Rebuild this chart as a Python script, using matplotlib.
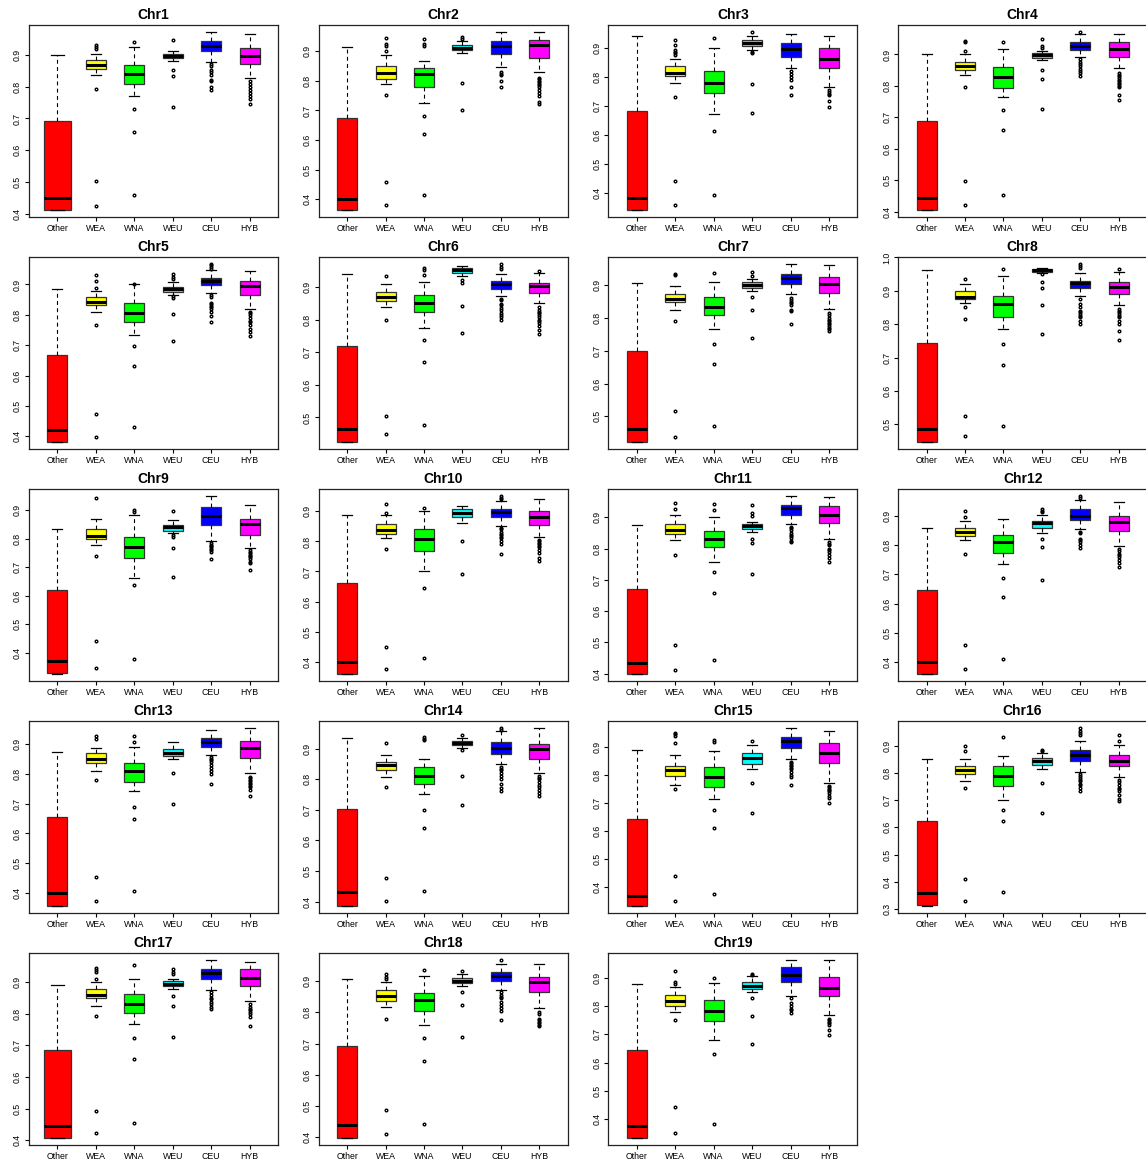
import matplotlib
matplotlib.use("Agg")
import matplotlib.pyplot as plt
from matplotlib.ticker import MultipleLocator, FormatStrFormatter

plt.rcParams['font.family'] = ['Liberation Sans', 'DejaVu Sans']

GROUPS = ["Other", "WEA", "WNA", "WEU", "CEU", "HYB"]
COLORS = ["#FF0000", "#FFFF00", "#00FF00", "#00FFFF", "#0000FF", "#FF00FF"]
CHROMS = ["Chr%d" % i for i in range(1, 20)]

# five-number summaries per chromosome (rows) and group (columns)
WHISLO = [
    [0.412, 0.837, 0.772, 0.882, 0.878, 0.826],
    [0.364, 0.791, 0.727, 0.894, 0.846, 0.831],
    [0.343, 0.780, 0.671, 0.892, 0.829, 0.763],
    [0.406, 0.835, 0.766, 0.881, 0.891, 0.856],
    [0.382, 0.811, 0.734, 0.867, 0.873, 0.820],
    [0.425, 0.839, 0.776, 0.936, 0.874, 0.851],
    [0.422, 0.823, 0.765, 0.882, 0.872, 0.827],
    [0.447, 0.862, 0.786, 0.952, 0.885, 0.857],
    [0.326, 0.779, 0.661, 0.819, 0.791, 0.768],
    [0.359, 0.813, 0.703, 0.863, 0.852, 0.814],
    [0.399, 0.828, 0.756, 0.852, 0.880, 0.832],
    [0.361, 0.818, 0.734, 0.841, 0.854, 0.796],
    [0.357, 0.810, 0.743, 0.851, 0.862, 0.801],
    [0.386, 0.807, 0.751, 0.903, 0.850, 0.820],
    [0.331, 0.762, 0.713, 0.821, 0.857, 0.770],
    [0.311, 0.772, 0.700, 0.816, 0.803, 0.784],
    [0.408, 0.823, 0.766, 0.879, 0.876, 0.841],
    [0.397, 0.819, 0.761, 0.884, 0.873, 0.814],
    [0.332, 0.779, 0.680, 0.849, 0.836, 0.769],
]
Q1 = [
    [0.413, 0.856, 0.809, 0.889, 0.911, 0.873],
    [0.365, 0.808, 0.779, 0.905, 0.891, 0.877],
    [0.344, 0.801, 0.743, 0.907, 0.869, 0.829],
    [0.407, 0.851, 0.794, 0.889, 0.914, 0.893],
    [0.383, 0.832, 0.778, 0.875, 0.899, 0.867],
    [0.426, 0.859, 0.823, 0.945, 0.896, 0.882],
    [0.423, 0.849, 0.810, 0.892, 0.903, 0.876],
    [0.448, 0.876, 0.821, 0.956, 0.907, 0.889],
    [0.330, 0.798, 0.733, 0.829, 0.850, 0.815],
    [0.360, 0.826, 0.769, 0.882, 0.880, 0.856],
    [0.400, 0.847, 0.805, 0.864, 0.906, 0.882],
    [0.362, 0.829, 0.772, 0.859, 0.885, 0.847],
    [0.358, 0.835, 0.773, 0.861, 0.889, 0.853],
    [0.387, 0.831, 0.785, 0.912, 0.884, 0.865],
    [0.332, 0.794, 0.756, 0.839, 0.894, 0.840],
    [0.314, 0.797, 0.751, 0.830, 0.843, 0.824],
    [0.409, 0.848, 0.802, 0.886, 0.909, 0.888],
    [0.398, 0.837, 0.803, 0.895, 0.902, 0.865],
    [0.333, 0.801, 0.748, 0.862, 0.886, 0.837],
]
MED = [
    [0.450, 0.868, 0.839, 0.897, 0.928, 0.897],
    [0.402, 0.826, 0.824, 0.912, 0.918, 0.920],
    [0.384, 0.811, 0.780, 0.917, 0.895, 0.862],
    [0.444, 0.863, 0.828, 0.898, 0.928, 0.916],
    [0.420, 0.842, 0.807, 0.885, 0.910, 0.896],
    [0.466, 0.869, 0.851, 0.952, 0.909, 0.904],
    [0.460, 0.859, 0.833, 0.900, 0.921, 0.902],
    [0.485, 0.882, 0.859, 0.961, 0.922, 0.910],
    [0.370, 0.810, 0.770, 0.841, 0.880, 0.851],
    [0.400, 0.838, 0.809, 0.894, 0.897, 0.881],
    [0.433, 0.861, 0.830, 0.872, 0.929, 0.909],
    [0.400, 0.843, 0.810, 0.873, 0.900, 0.879],
    [0.400, 0.849, 0.808, 0.871, 0.908, 0.885],
    [0.431, 0.845, 0.809, 0.918, 0.902, 0.898],
    [0.367, 0.815, 0.791, 0.858, 0.919, 0.877],
    [0.357, 0.812, 0.790, 0.844, 0.865, 0.844],
    [0.445, 0.858, 0.832, 0.894, 0.928, 0.914],
    [0.438, 0.854, 0.840, 0.902, 0.916, 0.897],
    [0.373, 0.820, 0.784, 0.873, 0.912, 0.866],
]
Q3 = [
    [0.693, 0.885, 0.868, 0.903, 0.944, 0.922],
    [0.676, 0.852, 0.844, 0.920, 0.935, 0.937],
    [0.683, 0.836, 0.821, 0.926, 0.915, 0.898],
    [0.689, 0.877, 0.859, 0.905, 0.939, 0.939],
    [0.668, 0.860, 0.840, 0.893, 0.922, 0.913],
    [0.720, 0.885, 0.876, 0.958, 0.919, 0.912],
    [0.700, 0.874, 0.863, 0.908, 0.935, 0.926],
    [0.743, 0.899, 0.885, 0.964, 0.930, 0.927],
    [0.619, 0.836, 0.807, 0.850, 0.911, 0.868],
    [0.662, 0.858, 0.840, 0.907, 0.909, 0.900],
    [0.670, 0.878, 0.856, 0.880, 0.940, 0.936],
    [0.645, 0.859, 0.834, 0.883, 0.921, 0.898],
    [0.655, 0.870, 0.836, 0.883, 0.920, 0.910],
    [0.704, 0.856, 0.840, 0.925, 0.921, 0.914],
    [0.643, 0.832, 0.828, 0.876, 0.935, 0.913],
    [0.622, 0.827, 0.824, 0.855, 0.884, 0.865],
    [0.685, 0.877, 0.861, 0.903, 0.942, 0.941],
    [0.691, 0.871, 0.861, 0.909, 0.929, 0.915],
    [0.643, 0.839, 0.822, 0.886, 0.939, 0.905],
]
WHISHI = [
    [0.900, 0.903, 0.926, 0.912, 0.972, 0.967],
    [0.914, 0.886, 0.868, 0.934, 0.965, 0.965],
    [0.940, 0.860, 0.898, 0.940, 0.946, 0.940],
    [0.900, 0.902, 0.918, 0.911, 0.966, 0.966],
    [0.884, 0.880, 0.900, 0.908, 0.946, 0.944],
    [0.940, 0.910, 0.917, 0.966, 0.941, 0.943],
    [0.907, 0.897, 0.910, 0.920, 0.964, 0.960],
    [0.962, 0.919, 0.944, 0.967, 0.953, 0.957],
    [0.833, 0.871, 0.882, 0.867, 0.950, 0.920],
    [0.887, 0.889, 0.900, 0.919, 0.936, 0.941],
    [0.875, 0.908, 0.902, 0.886, 0.968, 0.964],
    [0.857, 0.883, 0.889, 0.902, 0.953, 0.946],
    [0.872, 0.887, 0.891, 0.906, 0.948, 0.953],
    [0.936, 0.879, 0.866, 0.934, 0.956, 0.967],
    [0.887, 0.870, 0.884, 0.906, 0.966, 0.955],
    [0.850, 0.852, 0.863, 0.872, 0.918, 0.904],
    [0.889, 0.899, 0.908, 0.908, 0.969, 0.964],
    [0.908, 0.898, 0.917, 0.922, 0.954, 0.955],
    [0.879, 0.867, 0.881, 0.907, 0.964, 0.964],
]

# outliers per chromosome, per group
fliers_chr1 = [[], [0.930, 0.925, 0.920, 0.792, 0.504, 0.425], [0.942, 0.730, 0.656, 0.458],
               [0.946, 0.854, 0.834, 0.735],
               [0.872, 0.864, 0.854, 0.845, 0.838, 0.822, 0.817, 0.799, 0.790],
               [0.817, 0.810, 0.800, 0.790, 0.780, 0.770, 0.762, 0.746]]
fliers_chr2 = [[], [0.944, 0.924, 0.919, 0.900, 0.754, 0.457, 0.381],
               [0.942, 0.925, 0.919, 0.683, 0.619, 0.414], [0.949, 0.942, 0.793, 0.700],
               [0.830, 0.825, 0.820, 0.800, 0.780],
               [0.810, 0.805, 0.800, 0.795, 0.790, 0.785, 0.780, 0.770, 0.760, 0.750, 0.730, 0.722]]
fliers_chr3 = [[], [0.926, 0.909, 0.892, 0.886, 0.880, 0.875, 0.732, 0.443, 0.360],
               [0.932, 0.613, 0.394], [0.953, 0.886, 0.880, 0.775, 0.675],
               [0.820, 0.810, 0.800, 0.790, 0.763, 0.737],
               [0.755, 0.748, 0.742, 0.737, 0.715, 0.697]]
fliers_chr4 = [[], [0.943, 0.939, 0.912, 0.798, 0.498, 0.420], [0.940, 0.722, 0.660, 0.454],
               [0.948, 0.927, 0.921, 0.852, 0.821, 0.728],
               [0.971, 0.884, 0.877, 0.870, 0.862, 0.855, 0.848, 0.840, 0.833],
               [0.840, 0.835, 0.830, 0.825, 0.820, 0.815, 0.810, 0.805, 0.800, 0.795, 0.770, 0.755]]
fliers_chr5 = [[], [0.930, 0.910, 0.890, 0.767, 0.475, 0.398], [0.902, 0.698, 0.632, 0.430],
               [0.936, 0.924, 0.919, 0.862, 0.856, 0.802, 0.713],
               [0.967, 0.963, 0.957, 0.952, 0.865, 0.860, 0.840, 0.835, 0.830, 0.825, 0.820, 0.810,
                0.795, 0.777],
               [0.810, 0.805, 0.800, 0.790, 0.780, 0.775, 0.765, 0.755, 0.745, 0.732]]
fliers_chr6 = [[], [0.935, 0.800, 0.506, 0.448], [0.958, 0.954, 0.938, 0.738, 0.669, 0.477],
               [0.922, 0.912, 0.842, 0.760],
               [0.971, 0.962, 0.956, 0.865, 0.860, 0.850, 0.845, 0.835, 0.830, 0.820, 0.815, 0.810,
                0.800],
               [0.951, 0.840, 0.830, 0.825, 0.820, 0.815, 0.810, 0.800, 0.795, 0.790, 0.780, 0.770,
                0.757]]
fliers_chr7 = [[], [0.934, 0.931, 0.790, 0.515, 0.436], [0.937, 0.721, 0.659, 0.469],
               [0.941, 0.929, 0.864, 0.823, 0.738],
               [0.860, 0.855, 0.850, 0.845, 0.840, 0.825, 0.820, 0.780],
               [0.815, 0.810, 0.800, 0.795, 0.790, 0.785, 0.780, 0.775, 0.770, 0.765, 0.760]]
fliers_chr8 = [[], [0.936, 0.851, 0.814, 0.526, 0.466], [0.964, 0.739, 0.678, 0.496],
               [0.949, 0.927, 0.907, 0.857, 0.771],
               [0.980, 0.974, 0.967, 0.875, 0.860, 0.850, 0.840, 0.835, 0.830, 0.825, 0.820, 0.810,
                0.800],
               [0.964, 0.845, 0.840, 0.835, 0.830, 0.825, 0.820, 0.810, 0.800, 0.780, 0.752]]
fliers_chr9 = [[], [0.944, 0.741, 0.440, 0.345], [0.902, 0.894, 0.639, 0.379],
               [0.898, 0.813, 0.808, 0.767, 0.667],
               [0.785, 0.780, 0.775, 0.770, 0.765, 0.760, 0.755, 0.730],
               [0.760, 0.755, 0.750, 0.745, 0.740, 0.735, 0.730, 0.720, 0.715, 0.690]]
fliers_chr10 = [[], [0.924, 0.896, 0.776, 0.449, 0.376], [0.912, 0.646, 0.411], [0.800, 0.692],
                [0.951, 0.946, 0.940, 0.845, 0.840, 0.830, 0.825, 0.820, 0.815, 0.810, 0.800, 0.790,
                 0.757],
                [0.805, 0.800, 0.795, 0.790, 0.785, 0.780, 0.770, 0.760, 0.745, 0.735]]
fliers_chr11 = [[], [0.945, 0.926, 0.781, 0.493, 0.412], [0.942, 0.924, 0.724, 0.658, 0.444],
                [0.939, 0.915, 0.904, 0.832, 0.817, 0.719],
                [0.870, 0.865, 0.860, 0.850, 0.845, 0.840, 0.835, 0.825, 0.820],
                [0.820, 0.815, 0.810, 0.800, 0.795, 0.790, 0.780, 0.770, 0.757]]
fliers_chr12 = [[], [0.917, 0.894, 0.769, 0.460, 0.376], [0.688, 0.621, 0.410],
                [0.923, 0.917, 0.911, 0.820, 0.794, 0.682],
                [0.966, 0.960, 0.845, 0.840, 0.820, 0.815, 0.810, 0.800, 0.790],
                [0.785, 0.780, 0.770, 0.765, 0.760, 0.750, 0.740, 0.725]]
fliers_chr13 = [[], [0.925, 0.918, 0.779, 0.454, 0.373], [0.928, 0.908, 0.690, 0.647, 0.408],
                [0.804, 0.698],
                [0.855, 0.850, 0.845, 0.840, 0.830, 0.820, 0.810, 0.800, 0.765],
                [0.790, 0.785, 0.780, 0.775, 0.770, 0.765, 0.760, 0.755, 0.745, 0.727]]
fliers_chr14 = [[], [0.919, 0.775, 0.476, 0.403], [0.937, 0.933, 0.928, 0.700, 0.641, 0.435],
                [0.945, 0.894, 0.810, 0.717],
                [0.966, 0.960, 0.840, 0.835, 0.830, 0.820, 0.810, 0.800, 0.785, 0.770, 0.763],
                [0.810, 0.805, 0.800, 0.790, 0.780, 0.775, 0.765, 0.755, 0.745]]
fliers_chr15 = [[], [0.950, 0.944, 0.938, 0.914, 0.747, 0.438, 0.347],
                [0.923, 0.917, 0.673, 0.609, 0.375], [0.920, 0.770, 0.663],
                [0.845, 0.840, 0.835, 0.830, 0.825, 0.820, 0.810, 0.800, 0.790, 0.763],
                [0.760, 0.755, 0.750, 0.745, 0.740, 0.735, 0.725, 0.715, 0.700]]
fliers_chr16 = [[], [0.900, 0.882, 0.745, 0.409, 0.330], [0.934, 0.665, 0.625, 0.363],
                [0.885, 0.879, 0.763, 0.653],
                [0.965, 0.955, 0.946, 0.938, 0.795, 0.790, 0.780, 0.775, 0.770, 0.760, 0.755, 0.745,
                 0.735],
                [0.938, 0.916, 0.775, 0.765, 0.755, 0.745, 0.740, 0.735, 0.720, 0.705, 0.697]]
fliers_chr17 = [[], [0.945, 0.938, 0.933, 0.908, 0.793, 0.494, 0.422], [0.955, 0.723, 0.657, 0.456],
                [0.941, 0.931, 0.925, 0.857, 0.825, 0.725],
                [0.867, 0.860, 0.850, 0.845, 0.838, 0.830, 0.822, 0.816],
                [0.830, 0.820, 0.815, 0.810, 0.805, 0.800, 0.790, 0.760]]
fliers_chr18 = [[], [0.922, 0.915, 0.908, 0.778, 0.486, 0.409], [0.935, 0.717, 0.644, 0.443],
                [0.932, 0.866, 0.825, 0.720],
                [0.968, 0.865, 0.855, 0.850, 0.845, 0.835, 0.825, 0.815, 0.805, 0.777],
                [0.800, 0.795, 0.780, 0.775, 0.770, 0.765, 0.760, 0.757]]
fliers_chr19 = [[], [0.926, 0.886, 0.880, 0.752, 0.442, 0.348], [0.900, 0.632, 0.381],
                [0.915, 0.912, 0.830, 0.766, 0.667],
                [0.830, 0.810, 0.800, 0.790, 0.785, 0.775],
                [0.755, 0.750, 0.745, 0.740, 0.735, 0.715, 0.698]]
FLIERS = [fliers_chr1, fliers_chr2, fliers_chr3, fliers_chr4, fliers_chr5, fliers_chr6,
          fliers_chr7, fliers_chr8, fliers_chr9, fliers_chr10, fliers_chr11, fliers_chr12,
          fliers_chr13, fliers_chr14, fliers_chr15, fliers_chr16, fliers_chr17, fliers_chr18,
          fliers_chr19]

W, H = 1146, 1162
fig = plt.figure(figsize=(W / 100, H / 100), dpi=100)

AX_W, AX_H = 249, 192
COL_STEP, ROW_STEP = 289.7, 232.0
LEFT0, TOP0 = 29, 25

for k, chrom in enumerate(CHROMS):
    r, c = divmod(k, 4)
    left = LEFT0 + c * COL_STEP
    top = TOP0 + r * ROW_STEP
    ax = fig.add_axes([left / W, 1 - (top + AX_H) / H, AX_W / W, AX_H / H])

    stats = []
    for g in range(6):
        stats.append(dict(whislo=WHISLO[k][g], q1=Q1[k][g], med=MED[k][g], q3=Q3[k][g],
                          whishi=WHISHI[k][g], fliers=FLIERS[k][g], label=GROUPS[g]))
    widths = [0.72 if (g == 0 and chrom in ("Chr1", "Chr17")) else 0.52 for g in range(6)]
    positions = list(range(1, 7))
    bp = ax.bxp(stats, positions=positions, widths=widths, capwidths=[w * 0.5 for w in widths],
                patch_artist=True, showfliers=True,
                boxprops=dict(edgecolor="#333333", linewidth=0.9),
                medianprops=dict(color="black", linewidth=2.2, solid_capstyle="butt"),
                whiskerprops=dict(color="black", linewidth=0.8, linestyle=(0, (3.5, 3))),
                capprops=dict(color="black", linewidth=0.9),
                flierprops=dict(marker="o", markersize=1.9, markerfacecolor="none",
                                markeredgecolor="black", markeredgewidth=1.0, linestyle="none"))
    for patch, col in zip(bp["boxes"], COLORS):
        patch.set_facecolor(col)

    allv = WHISLO[k] + WHISHI[k] + [v for fl in FLIERS[k] for v in fl]
    lo, hi = min(allv), max(allv)
    pad = 0.04 * (hi - lo)
    ax.set_ylim(lo - pad, hi + pad)
    ax.set_xlim(0.5 - 0.24, 6.5 + 0.24)

    ax.yaxis.set_major_locator(MultipleLocator(0.1))
    ax.yaxis.set_major_formatter(FormatStrFormatter("%.1f"))
    ax.set_xticks(positions)
    ax.set_xticklabels(GROUPS)
    ax.tick_params(axis="both", direction="out", length=3, width=0.8, labelsize=6.3,
                   colors="black", pad=2)
    for lbl in ax.get_yticklabels():
        lbl.set_rotation(90)
        lbl.set_va("center")
    for sp in ax.spines.values():
        sp.set_linewidth(0.9)
        sp.set_color("#222222")
    ax.set_title(chrom, fontsize=10, fontweight="bold", pad=4)

fig.savefig("out.png", dpi=100)
